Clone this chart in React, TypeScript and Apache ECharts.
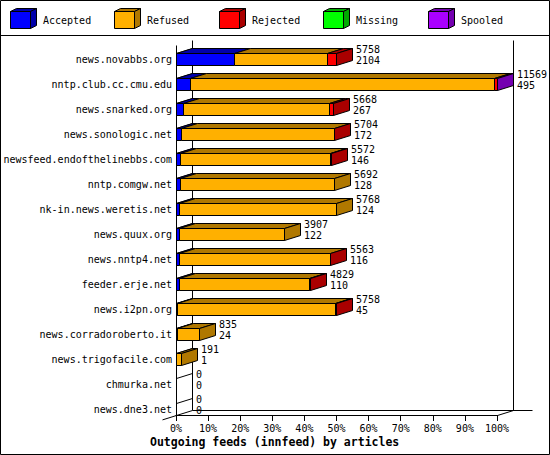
import * as echarts from "echarts";
import React, { useEffect, useRef } from "react";

const hosts = [
  "news.novabbs.org",
  "nntp.club.cc.cmu.edu",
  "news.snarked.org",
  "news.sonologic.net",
  "newsfeed.endofthelinebbs.com",
  "nntp.comgw.net",
  "nk-in.news.weretis.net",
  "news.quux.org",
  "news.nntp4.net",
  "feeder.erje.net",
  "news.i2pn.org",
  "news.corradoroberto.it",
  "news.trigofacile.com",
  "chmurka.net",
  "news.dne3.net",
];
const offered = [5758, 11569, 5668, 5704, 5572, 5692, 5768, 3907, 5563, 4829, 5758, 835, 191, 0, 0];
const accepted = [2104, 495, 267, 172, 146, 128, 124, 122, 116, 110, 45, 24, 1, 0, 0];
const refused = [3354, 10949, 5261, 5512, 5406, 5564, 5644, 3785, 5427, 4699, 5693, 811, 190, 0, 0];
const rejected = [300, 110, 140, 20, 20, 0, 0, 0, 20, 20, 20, 0, 0, 0, 0];
const missing = [0, 0, 0, 0, 0, 0, 0, 0, 0, 0, 0, 0, 0, 0, 0];
const spooled = [0, 15, 0, 0, 0, 0, 0, 0, 0, 0, 0, 0, 0, 0, 0];

const seriesNames = ["Accepted", "Refused", "Rejected", "Missing", "Spooled"];
const frontColors = ["#0000ff", "#ffb000", "#ff0000", "#00ff00", "#aa00ff"];
const darkColors = ["#0000aa", "#b07800", "#aa0000", "#00aa00", "#7400b0"];

const maxOffered = Math.max(...offered);
const DX = 16;
const DY = 5;
const FONT = '"DejaVu Sans Mono", monospace';

const crisp = (v: number) => Math.round(v) + 0.5;

const App: React.FC = () => {
  const chartRef = useRef<HTMLDivElement | null>(null);

  useEffect(() => {
    const chart = echarts.init(chartRef.current, null, { renderer: "svg" });
    const segments = [accepted, refused, rejected, missing, spooled];
    const black = { stroke: "#000", lineWidth: 1 };

    const label = (text: string, x: number, y: number, extra: any = {}) => ({
      type: "text",
      style: {
        text,
        x,
        y,
        fill: "#000",
        font: `10px ${FONT}`,
        align: "left",
        verticalAlign: "middle",
        textAlign: "left",
        textVerticalAlign: "middle",
        ...extra,
      },
    });

    const renderBar = (_params: any, api: any) => {
      const i = api.value(0);
      const [x0, c] = api.coord([0, i]);
      const left = crisp(x0);
      const top = Math.round(c) - 6 + 0.5;
      const bottom = Math.round(c) + 6 + 0.5;
      const back = top - DY;
      const children: any[] = [
        { type: "line", shape: { x1: left, y1: top, x2: left + DX, y2: back }, style: black },
      ];
      let cum = 0;
      let last = -1;
      let xEnd = left;
      segments.forEach((seg, k) => {
        const v = seg[i];
        if (!v) return;
        const xa = crisp(api.coord([cum, i])[0]);
        cum += v;
        const xb = crisp(api.coord([cum, i])[0]);
        last = k;
        xEnd = xb;
        if (xb <= xa) return;
        children.push({
          type: "rect",
          shape: { x: xa, y: top, width: xb - xa, height: bottom - top },
          style: { fill: frontColors[k], ...black },
        });
        children.push({
          type: "polygon",
          shape: { points: [[xa, top], [xb, top], [xb + DX, back], [xa + DX, back]] },
          style: { fill: darkColors[k], ...black },
        });
      });
      if (last >= 0) {
        children.push({
          type: "polygon",
          shape: {
            points: [[xEnd, top], [xEnd + DX, back], [xEnd + DX, bottom - DY], [xEnd, bottom]],
          },
          style: { fill: darkColors[last], ...black },
        });
      }
      const tx = Math.round(xEnd + DX + 3);
      children.push(label(String(offered[i]), tx, Math.round(c) - 10));
      children.push(label(String(accepted[i]), tx, Math.round(c) + 1.5));
      return { type: "group", children };
    };

    const renderFrame = (_params: any, api: any) => {
      const [fx0, fy0] = api.coord([0, 0]);
      const [fx1, fy1] = api.coord([maxOffered, 1]);
      const l = crisp(fx0);
      const r = crisp(fx1);
      const b = crisp(fy0);
      const t = crisp(fy1);
      const ln = (x1: number, y1: number, x2: number, y2: number) => ({
        type: "line",
        shape: { x1, y1, x2, y2 },
        style: black,
      });
      return {
        type: "group",
        children: [
          ln(l, t, l, b),
          ln(l + DX, t - DY, l + DX, b - DY),
          ln(r + DX, t - DY, r + DX, b - DY),
          ln(l + DX, b - DY, r + DX + 19, b - DY),
          ln(r, b, r + DX, b - DY),
          ln(l - 14, b + (14 * DY) / DX, l + DX, b - DY),
        ],
      };
    };

    const legendItems: any[] = [];
    seriesNames.forEach((name, k) => {
      const bx = Math.round(10 + k * 104.4) + 0.5;
      const by = 11.5;
      const w = 20;
      const h = 17;
      legendItems.push(
        {
          type: "rect",
          shape: { x: bx, y: by, width: w, height: h },
          style: { fill: frontColors[k], ...black },
        },
        {
          type: "polygon",
          shape: { points: [[bx, by], [bx + w, by], [bx + w + 6, by - 3], [bx + 6, by - 3]] },
          style: { fill: darkColors[k], ...black },
        },
        {
          type: "polygon",
          shape: { points: [[bx + w, by], [bx + w + 6, by - 3], [bx + w + 6, by + h - 3], [bx + w, by + h]] },
          style: { fill: darkColors[k], ...black },
        },
        label(name, Math.round(bx) + 32, 20)
      );
    });

    chart.setOption({
      animation: false,
      graphic: [
        {
          type: "rect",
          shape: { x: 0.5, y: 0.5, width: 549, height: 454 },
          style: { fill: "none", ...black },
          silent: true,
        },
        {
          type: "line",
          shape: { x1: 0, y1: 35.5, x2: 550, y2: 35.5 },
          style: black,
          silent: true,
        },
        ...legendItems.map((it) => ({ ...it, silent: true })),
        {
          ...label("Outgoing feeds (innfeed) by articles", 150, 442, {
            font: `bold 11.5px ${FONT}`,
          }),
          silent: true,
        },
      ],
      grid: [
        { left: 176, right: 53, top: 46.5, height: 375 },
        { left: 176, right: 53, top: 45, bottom: 40 },
      ],
      xAxis: [
        { type: "value", gridIndex: 0, min: 0, max: maxOffered, show: false },
        {
          type: "value",
          gridIndex: 1,
          min: 0,
          max: maxOffered,
          interval: maxOffered / 10,
          splitLine: { show: false },
          axisLine: { show: true, lineStyle: { color: "#000", width: 1 } },
          axisTick: { show: true, length: 6, lineStyle: { color: "#000" } },
          axisLabel: {
            margin: 8,
            color: "#000",
            fontFamily: FONT,
            fontSize: 10,
            formatter: (v: number) => `${Math.round((v / maxOffered) * 100)}%`,
          },
        },
      ],
      yAxis: [
        {
          type: "category",
          gridIndex: 0,
          data: hosts,
          inverse: true,
          axisLine: { show: false },
          axisTick: { show: false },
          splitLine: { show: false },
          axisLabel: { margin: 4, color: "#000", fontFamily: FONT, fontSize: 10 },
        },
        { type: "value", gridIndex: 1, min: 0, max: 1, show: false },
      ],
      series: [
        {
          type: "custom",
          name: "frame",
          xAxisIndex: 1,
          yAxisIndex: 1,
          clip: false,
          silent: true,
          z: 1,
          renderItem: renderFrame,
          data: [[0]],
        },
        {
          type: "custom",
          name: "feeds",
          xAxisIndex: 0,
          yAxisIndex: 0,
          clip: false,
          silent: true,
          z: 2,
          renderItem: renderBar,
          encode: { y: 0 },
          data: hosts.map((_h, i) => [i]),
        },
      ],
    });

    return () => {
      chart.dispose();
    };
  }, []);

  return (
    <div
      ref={chartRef}
      style={{ position: "absolute", left: 0, top: 0, width: "550px", height: "455px", background: "#fff" }}
    ></div>
  );
};

export default App;
